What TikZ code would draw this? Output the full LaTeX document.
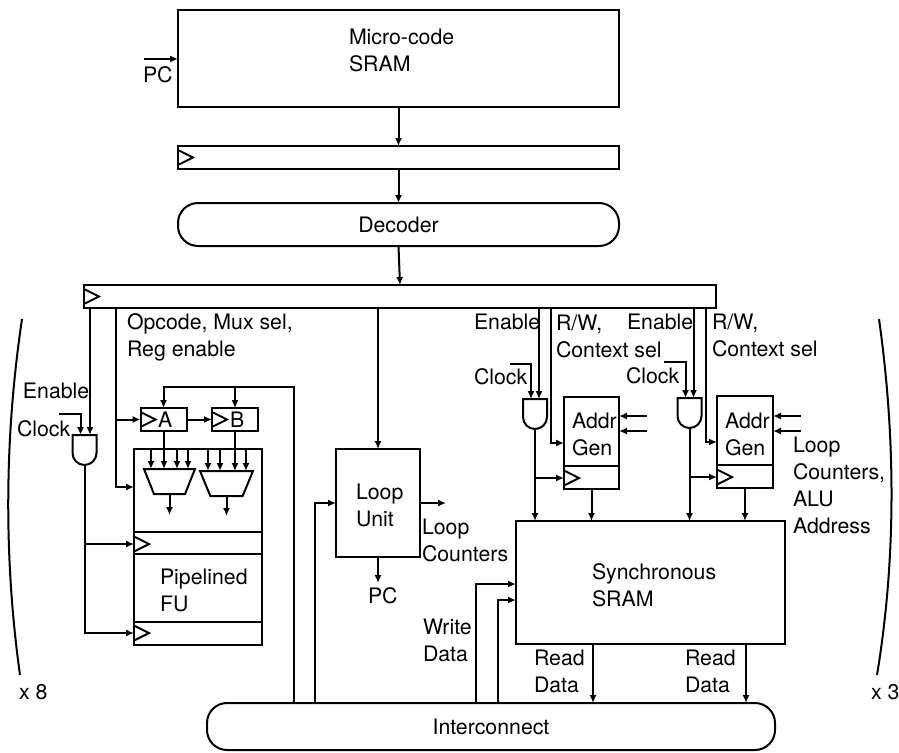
\documentclass[tikz,border=0pt]{standalone}
\usepackage{fontspec}
\setmainfont{TeX Gyre Heros}
\usetikzlibrary{arrows.meta,calc,shapes.geometric,shapes.gates.logic.US}
\tikzset{
  box/.style={draw,rectangle,inner sep=0pt,outer sep=0pt},
  pill/.style={box,rounded corners=20pt},
  lbl/.style={anchor=west,align=left,inner sep=0pt,outer sep=0pt},
  mux/.style={draw,trapezium,trapezium stretches=true,trapezium angle=73,shape border rotate=180,minimum height=25,inner sep=0pt,outer sep=0pt},
  andgate/.style={draw,and gate US,logic gate inputs=nn,rotate=-90,minimum width=28,minimum height=23,inner sep=0pt,outer sep=0pt}
}
\newcommand{\clocktri}[1]{\draw ($(#1)+(1,-7)$) -- ++(14,7) -- ++(-14,7);}
\begin{document}
\begin{tikzpicture}[x=1pt,y=-1pt,>={Latex[length=8pt,width=7pt]},line width=2pt,
    every node/.style={font=\fontsize{21.3}{27}\selectfont}]
  \useasboundingbox (0,0) rectangle (899,752);

  % control path
  \node[box,minimum width=441,minimum height=97] (mcode) at (398.5,58.5) {};
  \node[box,minimum width=441,minimum height=23] (ireg) at (398.5,157.5) {};
  \node[pill,minimum width=441,minimum height=43] (decoder) at (398.5,224.5) {Decoder};
  \node[box,minimum width=632,minimum height=23] (cword) at (400,296.5) {};
  \node[pill,minimum width=568,minimum height=47] (interconnect) at (491,726.5) {Interconnect};
  \node[lbl] (mcodetxt) at (349,50) {Micro-code\\SRAM};
  \node[lbl] (pctxt) at (143,75) {PC};
  \coordinate (pcin) at (144,59);
  \clocktri{ireg.west}
  \clocktri{cword.west}
  \draw[->] (pcin) -- (pcin -| mcode.west);
  \draw[->] (mcode.south) -- (ireg.north);
  \draw[->] (ireg.south) -- (decoder.north);
  \draw[->] (decoder.south) -- (cword.north);

  % functional unit
  \node[box,minimum width=128,minimum height=196] (fu) at (198,547) {};
  \node[box,minimum width=46,minimum height=23] (rega) at (163.5,419.5) {};
  \node[box,minimum width=46,minimum height=23] (regb) at (235,419.5) {};
  \node[lbl] (atxt) at (158,419.5) {A};
  \node[lbl] (btxt) at (230,419.5) {B};
  \node[mux,minimum width=51] (muxa) at (169.5,481.5) {\phantom{x}};
  \node[mux,minimum width=53] (muxb) at (226.5,483.5) {\phantom{x}};
  \node[andgate] (gatefu) at (84.5,449) {};
  \node[lbl] (optxt) at (127,337) {Opcode, Mux sel,\\Reg enable};
  \node[lbl] (enfu) at (23,391) {Enable};
  \node[lbl] (clkfu) at (17,429) {Clock};
  \node[lbl] (futxt) at (160,590) {Pipelined\\FU};
  \coordinate (clkfuin) at (59,414);
  \coordinate (tapop) at (116,308);
  \coordinate (tapen) at (90,308);
  \coordinate (fbbus) at (294,387);
  \coordinate (regone) at (134,544);
  \coordinate (regtwo) at (134,633);
  \draw (fu.west |- 0,532) -- (fu.east |- 0,532);
  \draw (fu.west |- 0,554) -- (fu.east |- 0,554);
  \draw (fu.west |- 0,622) -- (fu.east |- 0,622);
  \clocktri{regone}
  \clocktri{regtwo}
  \clocktri{rega.west}
  \clocktri{regb.west}
  \draw[->] (tapen) -- (tapen |- gatefu.input 1);
  \draw[->] (clkfuin) -| (gatefu.input 2);
  \draw[->] (tapop) |- (fu.west |- 0,487);
  \draw[->] (tapop |- rega.west) -- (rega.west);
  \draw[->] (rega.east) -- (regb.west);
  \draw (rega.south) -- (rega.south |- fu.north);
  \draw (regb.south) -- (regb.south |- fu.north);
  \draw[->] (interconnect.north -| fbbus) -- (fbbus) -| (rega.north);
  \draw[->] (regb.north |- fbbus) -- (regb.north);
  \foreach \i in {151,164,177,188}
    \draw[->] (fu.north -| \i,0) -- (\i,469);
  \foreach \i in {208,220,235,246}
    \draw[->] (fu.north -| \i,0) -- (\i,471);
  \draw[->] (muxa.south) -- ++(0,21);
  \draw[->] (muxb.south) -- ++(0,20);
  \draw[->] (gatefu.output) |- (regtwo);
  \draw[->] (gatefu.output |- regone) -- (regone);

  % loop unit
  \node[box,minimum width=84,minimum height=108] (loopu) at (378,503) {};
  \node[lbl] (looptxt) at (356,505) {Loop\\Unit};
  \node[lbl] (lcnt) at (422,540) {Loop\\Counters};
  \node[lbl] (pcout) at (368,596) {PC};
  \coordinate (lcntout) at (446,503);
  \draw[->] (cword.south -| loopu.north) -- (loopu.north);
  \draw[->] (loopu.east) -- (lcntout);
  \draw[->] (loopu.south) -- ++(0,26);
  \draw[->] (interconnect.north -| 315,0) |- (loopu.west);

  % memory
  \node[box,minimum width=269,minimum height=123] (sync) at (650.5,582.5) {};
  \node[lbl] (synctxt) at (592,585) {Synchronous\\SRAM};
  \node[box,minimum width=55,minimum height=92] (addra) at (591.5,443) {};
  \node[box,minimum width=56,minimum height=92] (addrb) at (745,442) {};
  \node[andgate] (gatea) at (535,413) {};
  \node[andgate] (gateb) at (689.5,412) {};
  \node[lbl] (addratxt) at (572,434) {Addr\\Gen};
  \node[lbl] (addrbtxt) at (725,434) {Addr\\Gen};
  \node[lbl] (ena) at (474,322) {Enable};
  \node[lbl] (enb) at (627,322) {Enable};
  \node[lbl] (rwa) at (556,336) {R/W,\\Context sel};
  \node[lbl] (rwb) at (712,335) {R/W,\\Context sel};
  \node[lbl] (clka) at (474,377) {Clock};
  \node[lbl] (clkb) at (626,376) {Clock};
  \node[lbl] (lctxt) at (793,485) {Loop\\Counters,\\ALU\\Address};
  \node[lbl] (wdata) at (423,640) {Write\\Data};
  \node[lbl] (rda) at (534,671) {Read\\Data};
  \node[lbl] (rdb) at (685,671) {Read\\Data};
  \coordinate (clkain) at (510,364);
  \coordinate (clkbin) at (664,362);
  \coordinate (taprwa) at (551,308);
  \coordinate (taprwb) at (706,308);
  \coordinate (wra) at (476,584);
  \coordinate (wrb) at (498,600);
  \coordinate (rega2) at (564,478);
  \coordinate (regb2) at (717,477);
  \draw (addra.west |- 0,466) -- (addra.east |- 0,466);
  \draw (addrb.west |- 0,465) -- (addrb.east |- 0,465);
  \clocktri{rega2}
  \clocktri{regb2}
  \draw[->] (cword.south -| gatea.input 1) -- (gatea.input 1);
  \draw[->] (cword.south -| gateb.input 1) -- (gateb.input 1);
  \draw[->] (clkain) -| (gatea.input 2);
  \draw[->] (clkbin) -| (gateb.input 2);
  \draw[->] (taprwa) |- (addra.west |- 0,443);
  \draw[->] (taprwb) |- (addrb.west |- 0,442);
  \draw[->] (gatea.output) -- (gatea.output |- sync.north);
  \draw[->] (gateb.output) -- (gateb.output |- sync.north);
  \draw[->] (gatea.output |- rega2) -- (rega2);
  \draw[->] (gateb.output |- regb2) -- (regb2);
  \draw[->] (addra.south) -- (addra.south |- sync.north);
  \draw[->] (addrb.south) -- (addrb.south |- sync.north);
  \draw[->] (647,416) -- (addra.east |- 0,416);
  \draw[->] (647,431) -- (addra.east |- 0,431);
  \draw[->] (801,416) -- (addrb.east |- 0,416);
  \draw[->] (801,431) -- (addrb.east |- 0,431);
  \draw[->] (interconnect.north -| wra) -- (wra) -- (sync.west |- wra);
  \draw[->] (interconnect.north -| wrb) -- (wrb) -- (sync.west |- wrb);
  \draw[->] (sync.south -| 593,0) -- (interconnect.north -| 593,0);
  \draw[->] (sync.south -| 746,0) -- (interconnect.north -| 746,0);

  % brackets
  \coordinate (lbrt) at (22,319);
  \coordinate (lbrb) at (20,675);
  \coordinate (rbrt) at (879,319);
  \coordinate (rbrb) at (877,675);
  \draw (lbrt) .. controls (4,440) and (4,560) .. (lbrb);
  \draw (rbrt) .. controls (896,440) and (896,560) .. (rbrb);
  \node[lbl] (xeight) at (19,692) {x 8};
  \node[lbl] (xthree) at (871,692) {x 3};
\end{tikzpicture}
\end{document}
